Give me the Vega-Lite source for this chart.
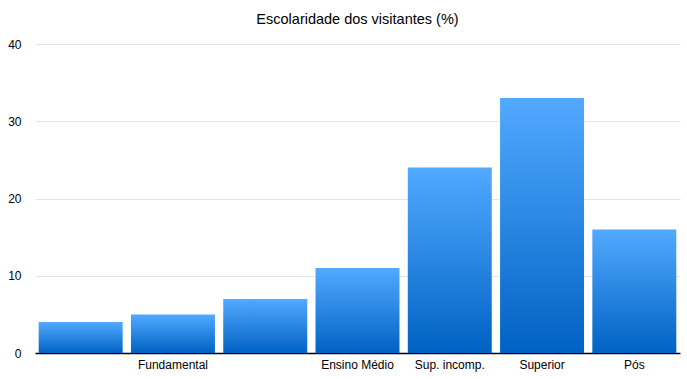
{
  "$schema": "https://vega.github.io/schema/vega-lite/v6.json",
  "width": 645,
  "height": 309,
  "autosize": "none",
  "padding": {"left": 35, "top": 44, "right": 7, "bottom": 26},
  "background": "white",
  "title": {"text": "Escolaridade dos visitantes (%)", "font": "Liberation Sans", "fontSize": 14.5, "fontWeight": "normal", "color": "#000000", "offset": 11},
  "data": {"values": [
    {"cat": "a", "label": "", "value": 4},
    {"cat": "b", "label": "Fundamental", "value": 5},
    {"cat": "c", "label": "", "value": 7},
    {"cat": "d", "label": "Ensino Médio", "value": 11},
    {"cat": "e", "label": "Sup. incomp.", "value": 24},
    {"cat": "f", "label": "Superior", "value": 33},
    {"cat": "g", "label": "Pós", "value": 16}
  ]},
  "mark": {"type": "bar", "color": {"gradient": "linear", "x1": 0, "y1": 0, "x2": 0, "y2": 1, "stops": [{"offset": 0, "color": "#52AAFF"}, {"offset": 1, "color": "#0062C4"}]}},
  "encoding": {
    "x": {"field": "cat", "type": "nominal", "sort": null,
      "scale": {"paddingInner": 0.09, "paddingOuter": 0.04},
      "axis": {"title": null, "labelAngle": 0, "ticks": false, "domainColor": "#000000", "domainWidth": 1.5, "labelFont": "Liberation Sans", "labelFontSize": 12, "labelColor": "#000000", "labelPadding": 6,
        "labelExpr": "datum.value == 'b' ? 'Fundamental' : datum.value == 'd' ? 'Ensino Médio' : datum.value == 'e' ? 'Sup. incomp.' : datum.value == 'f' ? 'Superior' : datum.value == 'g' ? 'Pós' : ''"}},
    "y": {"field": "value", "type": "quantitative",
      "scale": {"domain": [0, 40]},
      "axis": {"title": null, "values": [0, 10, 20, 30, 40], "ticks": false, "domain": false, "gridColor": "#E6E6E6", "labelFont": "Liberation Sans", "labelFontSize": 12, "labelColor": "#000000", "labelPadding": 14}}
  },
  "config": {"view": {"stroke": null}}
}
